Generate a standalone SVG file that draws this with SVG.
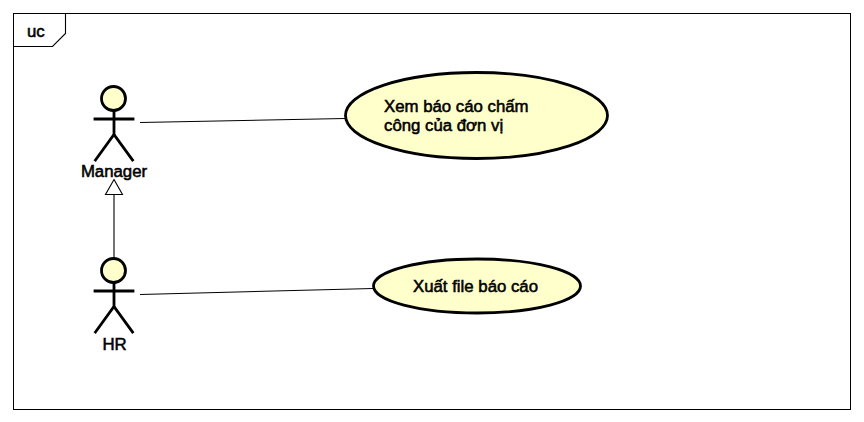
<svg xmlns="http://www.w3.org/2000/svg" width="864" height="422" viewBox="0 0 864 422">
<style>
text{font-family:"Liberation Sans",Arial,sans-serif;font-size:16.800px;fill:#000;stroke:#000;stroke-width:.55px}
.a{fill:none;stroke:#000;stroke-width:2.800;stroke-linecap:square}
.h{fill:#ffffcc;stroke:#000;stroke-width:2.800}
.c{fill:none;stroke:#000;stroke-width:1.100}
.u{fill:#ffffcc;stroke:#000;stroke-width:2.800}
</style>
<rect width="864" height="422" fill="#fff"/>
<g id="frame">
<rect x="13.500" y="13.500" width="837" height="396" fill="#fff" stroke="#000" stroke-width="1"/>
<path class="c" d="M13.500 46.500H52.500L65.500 33.500V13.500"/>
<text x="27" y="37">uc</text>
</g>
<g id="connectors">
<path class="c" d="M140 122.500L345 118.500"/>
<path class="c" d="M140 294.500L373 288.500"/>
<path class="c" d="M114 258V194.500"/>
<path d="M114 179.500L122.500 194.500H105.500Z" fill="#fff" stroke="#000" stroke-width="1.100"/>
</g>
<g id="manager">
<circle class="h" cx="113.500" cy="98.500" r="12"/>
<path class="a" d="M114 111V134.500M95 119H133M114 134.500L95.500 160M114 134.500L132.500 160"/>
<text x="114" y="177" text-anchor="middle">Manager</text>
</g>
<g id="hr">
<circle class="h" cx="113.500" cy="270.500" r="12"/>
<path class="a" d="M114 283V306.500M95 291H133M114 306.500L95.500 332M114 306.500L132.500 332"/>
<text x="114.500" y="350" text-anchor="middle">HR</text>
</g>
<g id="uc1">
<ellipse class="u" cx="476.500" cy="115.500" rx="131" ry="43"/>
<text x="384" y="112">Xem báo cáo chấm</text>
<text x="384" y="131">công của đơn vị</text>
</g>
<g id="uc2">
<ellipse class="u" cx="477" cy="286" rx="103.500" ry="27"/>
<text x="413" y="292">Xuất file báo cáo</text>
</g>
</svg>
